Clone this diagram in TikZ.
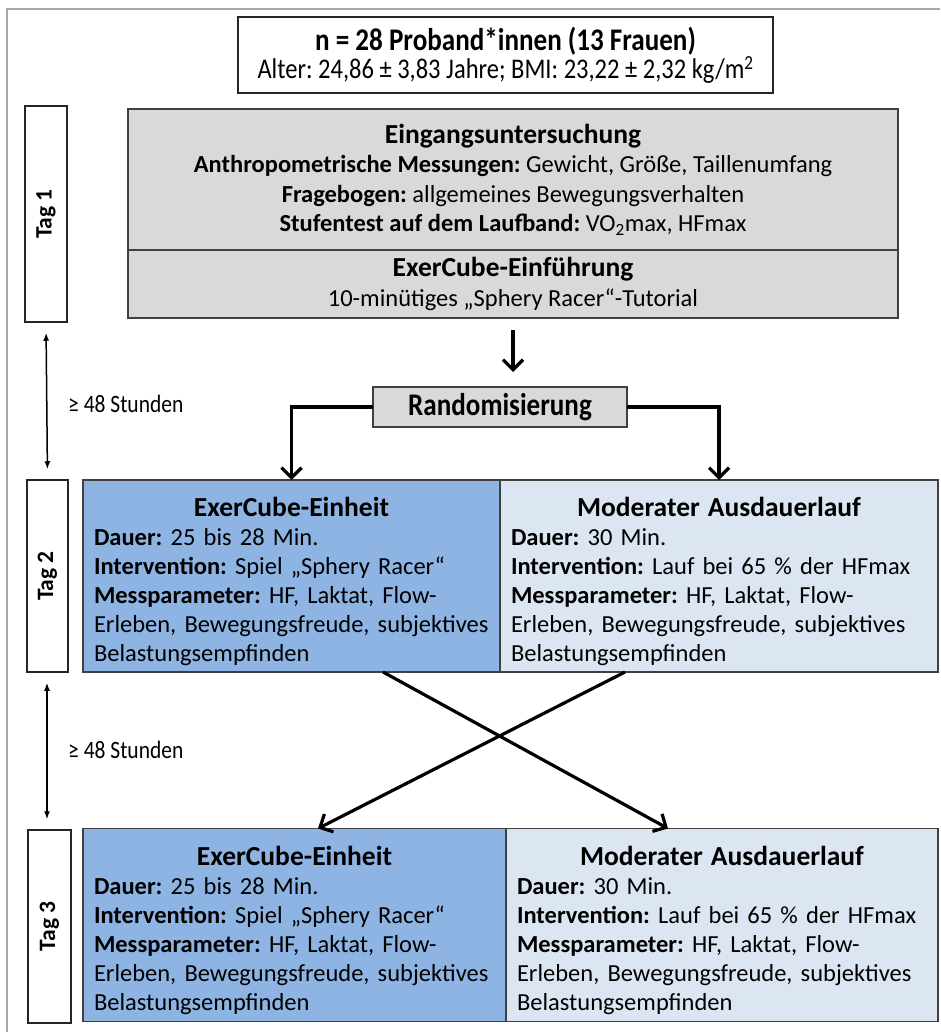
\documentclass[tikz,border=0pt]{standalone}
\usepackage{fontspec}
\setmainfont{Carlito}
\newfontfamily\condfont[FakeStretch=0.86]{Carlito}
\usetikzlibrary{arrows.meta,calc}
\definecolor{grayfill}{HTML}{D9D9D9}
\definecolor{bluedark}{HTML}{8EB4E3}
\definecolor{bluelight}{HTML}{DCE6F2}
\definecolor{boxline}{HTML}{404040}
\definecolor{framegray}{HTML}{A6A6A6}
\tikzset{
  boxbase/.style={draw=boxline, line width=1.5pt, inner sep=0pt, outer sep=0pt},
  graybox/.style={boxbase, fill=grayfill, align=center, font=\frenchspacing\fontsize{24.5}{29.5}\selectfont},
  armbox/.style={boxbase, inner xsep=11pt, font=\frenchspacing\fontsize{24.5}{29}\selectfont\setlength\parindent{0pt}},
  tagbox/.style={draw=black!85, line width=1.5pt, fill=white, inner sep=0pt, font=\bfseries\fontsize{23.5}{26}\selectfont},
  bigarrow/.style={line width=3.2pt, -{Straight Barb[length=10pt,width=20pt,line width=3.2pt]}},
  gaparrow/.style={line width=1.5pt, {Latex[length=8pt,width=6pt]}-{Latex[length=8pt,width=6pt]}},
  gaplabel/.style={anchor=west, inner sep=0pt, font=\condfont\fontsize{25}{28}\selectfont}
}
\newcommand{\ttl}[1]{{\centering\bfseries\fontsize{27.5}{29}\selectfont\rule{0pt}{31pt}#1\par}}
\begin{document}
\begin{tikzpicture}[x=1pt,y=-1pt]
\useasboundingbox (0,0) rectangle (940,1032);
% outer frame (top and left edges)
\draw[framegray, line width=2pt] (940,9) -- (7,9) -- (7,1032);

% top box
\node[draw=black!85, line width=1.5pt, fill=white, minimum width=535pt, minimum height=76pt, align=center, inner sep=0pt, font=\frenchspacing] (n) at (505.5,55)
  {{\condfont\bfseries\fontsize{31.5}{31}\selectfont n = 28 Proband*innen (13 Frauen)}\\
   {\condfont\fontsize{28.5}{31}\selectfont Alter: 24,86 ± 3,83 Jahre; BMI: 23,22 ± 2,32 kg/m\textsuperscript{2}}};

% Tag 1 gray boxes
\node[graybox, minimum width=770pt, minimum height=141pt] (eing) at (513,179.5)
  {{\bfseries\fontsize{27.5}{29.5}\selectfont Eingangsuntersuchung}\\
   \textbf{Anthropometrische Messungen:} Gewicht, Größe, Taillenumfang\\
   \textbf{Fragebogen:} allgemeines Bewegungsverhalten\\
   \textbf{Stufentest auf dem Laufband:} VO\textsubscript{2}max, HFmax};
\node[graybox, minimum width=770pt, minimum height=68pt] (intro) at (513,284)
  {{\bfseries\fontsize{27.5}{29.5}\selectfont ExerCube-Einführung}\\
   10-minütiges „Sphery Racer“-Tutorial};

% Tag labels
\node[tagbox, minimum width=42pt, minimum height=216pt] (tag1) at (46,214) {\rotatebox{90}{Tag 1}};
\node[tagbox, minimum width=41pt, minimum height=192pt] (tag2) at (47.5,576) {\rotatebox{90}{Tag 2}};
\node[tagbox, minimum width=43pt, minimum height=193pt] (tag3) at (49.5,926.5) {\rotatebox{90}{Tag 3}};

% Randomisierung
\node[boxbase, fill=grayfill, minimum width=254pt, minimum height=40pt, font=\condfont\bfseries\fontsize{31.5}{31}\selectfont] (rand) at (500,407) {Randomisierung};

% Tag 2 arms
\node[armbox, fill=bluedark, minimum width=417pt, minimum height=192pt, text width=395pt] (ex2) at (291.5,576)
  {\ttl{ExerCube-Einheit}\raggedright
   \textbf{Dauer:} 25 bis 28 Min.\\
   \textbf{Intervention:} Spiel „Sphery Racer“\\
   \textbf{Messparameter:} HF, Laktat, Flow-\\
   Erleben, Bewegungsfreude, subjektives\\
   Belastungsempfinden\par};
\node[armbox, fill=bluelight, minimum width=438pt, minimum height=192pt, text width=416pt] (mod2) at (719,576)
  {\ttl{Moderater Ausdauerlauf}\raggedright
   \textbf{Dauer:} 30 Min.\\
   \textbf{Intervention:} Lauf bei 65 \% der HFmax\\
   \textbf{Messparameter:} HF, Laktat, Flow-\\
   Erleben, Bewegungsfreude, subjektives\\
   Belastungsempfinden\par};

% Tag 3 arms
\node[armbox, fill=bluedark, minimum width=423pt, minimum height=193pt, text width=401pt] (ex3) at (294.5,925)
  {\ttl{ExerCube-Einheit}\raggedright
   \textbf{Dauer:} 25 bis 28 Min.\\
   \textbf{Intervention:} Spiel „Sphery Racer“\\
   \textbf{Messparameter:} HF, Laktat, Flow-\\
   Erleben, Bewegungsfreude, subjektives\\
   Belastungsempfinden\par};
\node[armbox, fill=bluelight, minimum width=432pt, minimum height=193pt, text width=410pt] (mod3) at (722,925)
  {\ttl{Moderater Ausdauerlauf}\raggedright
   \textbf{Dauer:} 30 Min.\\
   \textbf{Intervention:} Lauf bei 65 \% der HFmax\\
   \textbf{Messparameter:} HF, Laktat, Flow-\\
   Erleben, Bewegungsfreude, subjektives\\
   Belastungsempfinden\par};

% connectors
\draw[bigarrow, shorten <=12pt, shorten >=15pt] (intro.south) -- (intro.south |- rand.north);
\draw[bigarrow] (rand.west) -| (ex2.north);
\draw[bigarrow] (rand.east) -| (mod2.north);
\draw[bigarrow] ([xshift=91.5pt]ex2.south) -- ([xshift=-54pt]mod3.north);
\draw[bigarrow] ([xshift=-94pt]mod2.south) -- ([xshift=23.5pt]ex3.north);

% gap arrows
\draw[gaparrow, shorten <=10pt, shorten >=10pt] (tag1.south) -- (tag2.north);
\draw[gaparrow, shorten <=10pt, shorten >=10pt] ([xshift=-0.5pt]tag2.south) -- ([xshift=-2.5pt]tag3.north);
\node[gaplabel] (g1) at (68,404) {≥ 48 Stunden};
\node[gaplabel] (g2) at (68,750) {≥ 48 Stunden};
\end{tikzpicture}
\end{document}
